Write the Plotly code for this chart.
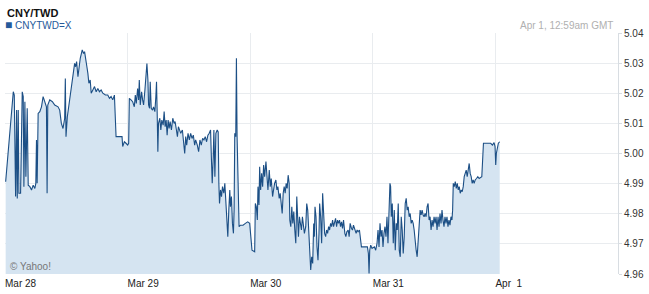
import pandas as pd
import plotly.graph_objects as go

# hours since Mar 28 00:00 GMT
hours = [
    0.129, 1.622, 1.817, 2.076, 2.271, 2.401, 2.596, 2.725, 3.050, 3.374, 3.569, 3.699, 3.894, 4.088, 4.348,
    4.543, 4.867, 5.192, 5.516, 5.841, 6.035, 6.165, 6.295, 6.490, 6.814, 7.139, 7.463, 7.788, 8.112, 8.242,
    8.372, 8.761, 9.280, 9.735, 10.384, 10.708, 11.033, 11.357, 11.682, 11.811, 11.941, 12.201, 12.525, 12.850,
    13.304, 13.629, 13.823, 14.018, 14.278, 14.472, 14.732, 15.121, 15.381, 15.576, 15.770, 16.030, 16.225,
    16.419, 16.679, 16.874, 17.198, 17.523, 17.847, 18.172, 18.496, 18.821, 19.145, 19.664, 20.119, 20.443,
    20.768, 21.092, 21.417, 21.611, 21.741, 22.390, 22.909, 23.039, 23.364, 23.688, 24.013, 24.207,
    24.340, 24.665, 24.990, 25.314, 25.509, 25.703, 25.963, 26.158, 26.288, 26.482, 26.742, 26.937, 27.131,
    27.391, 27.650, 27.780, 27.975, 28.105, 28.299, 28.429, 28.624, 28.884, 29.078, 29.338, 29.533, 29.662,
    29.792, 29.922, 30.052, 30.311, 30.506, 30.701, 30.960, 31.155, 31.350, 31.544, 31.739, 31.934, 32.129,
    32.323, 32.583, 32.842, 33.102, 33.297, 33.556, 33.751, 33.946, 34.205, 34.400, 34.725, 34.919, 35.179,
    35.374, 35.568, 35.828, 36.087, 36.347, 36.607, 36.866, 37.126, 37.321, 37.645, 37.905, 38.164, 38.424,
    38.683, 38.943, 39.203, 39.462, 39.722, 39.981, 40.241, 40.436, 40.566, 40.760, 40.890, 41.085, 41.279,
    41.539, 41.734, 41.864, 41.993, 42.188, 42.383, 42.577, 42.837, 43.032, 43.226, 43.421, 43.616, 43.811,
    44.005, 44.135, 44.330, 44.524, 44.719, 44.849, 44.979, 45.173, 45.303, 45.433, 45.563, 45.693, 45.823,
    46.082, 46.601, 47.056, 47.510, 47.899, 48.159, 48.354,
    48.876, 49.006, 49.201, 49.395, 49.525, 49.720, 49.850, 50.044, 50.239, 50.434, 50.629, 50.823, 51.083,
    51.278, 51.472, 51.732, 51.927, 52.121, 52.381, 52.576, 52.770, 53.030, 53.225, 53.419, 53.679, 53.874,
    54.068, 54.263, 54.458, 54.652, 54.847, 55.042, 55.236, 55.431, 55.626, 55.756, 55.950, 56.145, 56.340,
    56.534, 56.729, 56.924, 57.119, 57.248, 57.443, 57.638, 57.832, 58.027, 58.222, 58.417, 58.611, 58.871,
    59.066, 59.260, 59.455, 59.650, 59.844, 60.039, 60.234, 60.428, 60.558, 60.688, 60.883, 61.077, 61.272,
    61.467, 61.597, 61.791, 61.986, 62.181, 62.375, 62.570, 62.765, 62.960, 63.154, 63.349, 63.544, 63.738,
    63.933, 64.128, 64.322, 64.517, 64.712, 64.907, 65.101, 65.296, 65.491, 65.685, 65.880, 66.075, 66.269,
    66.529, 66.724, 66.918, 67.178, 67.373, 67.567, 67.827, 68.022, 68.216, 68.476, 68.736, 68.930, 69.125,
    69.385, 69.579, 69.774, 70.099, 70.553, 70.942, 71.137, 71.267, 71.397, 71.592, 71.851,
    72.309, 72.568, 72.828, 73.023, 73.217, 73.412, 73.607, 73.801, 73.996, 74.191, 74.385, 74.580, 74.775,
    74.970, 75.164, 75.359, 75.489, 75.619, 75.813, 76.008, 76.203, 76.397, 76.592, 76.787, 76.981, 77.176,
    77.371, 77.566, 77.760, 77.955, 78.150, 78.344, 78.539, 78.734, 78.928, 79.123, 79.318, 79.513, 79.707,
    79.902, 80.097, 80.291, 80.486, 80.681, 80.875, 81.070, 81.265, 81.460, 81.654, 81.849, 82.044, 82.238,
    82.433, 82.628, 82.822, 83.017, 83.212, 83.407, 83.601, 83.796, 83.991, 84.185, 84.380, 84.575, 84.769,
    84.964, 85.159, 85.354, 85.548, 85.743, 85.938, 86.132, 86.327, 86.522, 86.716, 86.911, 87.106, 87.301,
    87.495, 87.625, 87.755, 87.950, 88.144, 88.339, 88.534, 88.728, 88.923, 89.118, 89.312, 89.507, 89.702,
    89.897, 90.091, 90.286, 90.481, 90.675, 90.870, 91.065, 91.259, 91.454, 91.649, 91.844, 92.038, 92.298,
    92.557, 92.817, 93.142, 93.336, 93.531, 93.661, 94.115, 94.634, 95.089, 95.413, 95.738, 95.932, 96.062,
    96.192, 96.387, 96.581, 96.841,
]

rates = [
    4.9906, 5.0205, 5.0194, 4.9857, 5.0144, 4.9851, 5.0144, 4.9868, 4.9868, 5.0205, 5.0189, 4.9890, 5.0172, 4.9923, 5.0150,
    4.9895, 4.9890, 4.9879, 4.9895, 4.9884, 4.9901, 5.0045, 4.9901, 5.0133, 5.0139, 5.0155, 5.0189, 5.0172, 5.0155, 4.9868,
    5.0161, 5.0178, 5.0172, 5.0161, 5.0155, 5.0144, 5.0100, 5.0083, 5.0117, 5.0249, 5.0056, 5.0122, 5.0161, 5.0194,
    5.0255, 5.0299, 5.0288, 5.0305, 5.0255, 5.0288, 5.0316, 5.0344, 5.0332, 5.0338, 5.0321, 5.0288, 5.0266,
    5.0233, 5.0244, 5.0200, 5.0211, 5.0222, 5.0205, 5.0216, 5.0205, 5.0211, 5.0200, 5.0194, 5.0194, 5.0183,
    5.0189, 5.0178, 5.0194, 5.0122, 5.0056, 5.0056, 5.0056, 5.0023, 5.0039, 5.0034, 5.0028, 5.0034,
    5.0183, 5.0178, 5.0172, 5.0155, 5.0194, 5.0166, 5.0216, 5.0178, 5.0244, 5.0161, 5.0205, 5.0178, 5.0161,
    5.0211, 5.0294, 5.0299, 5.0244, 5.0161, 5.0150, 5.0238, 5.0150, 5.0144, 5.0155, 5.0139, 5.0189, 5.0238,
    5.0133, 5.0006, 5.0100, 5.0117, 5.0078, 5.0111, 5.0094, 5.0139, 5.0089, 5.0111, 5.0061, 5.0111, 5.0083,
    5.0106, 5.0078, 5.0117, 5.0100, 5.0106, 5.0078, 5.0056, 5.0089, 5.0072, 5.0067, 5.0078, 5.0050, 5.0000,
    5.0056, 5.0028, 5.0067, 5.0045, 5.0067, 5.0050, 5.0061, 5.0028, 5.0045, 5.0028, 5.0006, 5.0045, 5.0028,
    5.0050, 5.0045, 5.0056, 5.0039, 5.0061, 5.0067, 5.0078, 4.9967, 4.9901, 4.9989, 5.0078, 4.9923, 5.0067,
    5.0078, 5.0072, 4.9901, 4.9834, 4.9879, 4.9857, 4.9890, 4.9868, 4.9901, 4.9834, 4.9746, 4.9724, 4.9812,
    4.9879, 4.9823, 4.9857, 4.9768, 4.9735, 4.9812, 5.0067, 5.0056, 5.0316, 5.0056, 4.9934, 4.9768, 4.9757,
    4.9762, 4.9762, 4.9768, 4.9773, 4.9768, 4.9724, 4.9679,
    4.9674, 4.9834, 4.9823, 4.9779, 4.9890, 4.9829, 4.9956, 4.9879, 4.9934, 4.9890, 4.9962, 4.9923, 4.9973,
    4.9934, 4.9879, 4.9945, 4.9890, 4.9917, 4.9857, 4.9879, 4.9901, 4.9912, 4.9879, 4.9890, 4.9851, 4.9868,
    4.9834, 4.9801, 4.9868, 4.9890, 4.9868, 4.9901, 4.9884, 4.9928, 4.9901, 4.9779, 4.9757, 4.9823, 4.9768,
    4.9807, 4.9746, 4.9702, 4.9857, 4.9790, 4.9724, 4.9790, 4.9757, 4.9746, 4.9790, 4.9746, 4.9735, 4.9757,
    4.9834, 4.9812, 4.9746, 4.9679, 4.9613, 4.9657, 4.9635, 4.9768, 4.9724, 4.9823, 4.9790, 4.9690, 4.9646,
    4.9735, 4.9834, 4.9790, 4.9702, 4.9868, 4.9790, 4.9735, 4.9724, 4.9746, 4.9735, 4.9757, 4.9746, 4.9768,
    4.9757, 4.9779, 4.9757, 4.9773, 4.9785, 4.9757, 4.9779, 4.9768, 4.9779, 4.9757, 4.9773, 4.9751, 4.9779,
    4.9735, 4.9724, 4.9740, 4.9746, 4.9724, 4.9768, 4.9751, 4.9746, 4.9762, 4.9746, 4.9735, 4.9746, 4.9740,
    4.9746, 4.9724, 4.9690, 4.9690, 4.9690, 4.9690, 4.9668, 4.9602, 4.9679, 4.9696, 4.9685,
    4.9690, 4.9679, 4.9702, 4.9746, 4.9690, 4.9768, 4.9724, 4.9746, 4.9690, 4.9735, 4.9757, 4.9724, 4.9790,
    4.9702, 4.9857, 4.9901, 4.9890, 4.9790, 4.9834, 4.9702, 4.9812, 4.9679, 4.9768, 4.9746, 4.9834, 4.9679,
    4.9657, 4.9790, 4.9746, 4.9668, 4.9724, 4.9834, 4.9851, 4.9812, 4.9823, 4.9790, 4.9801, 4.9768, 4.9779,
    4.9768, 4.9746, 4.9702, 4.9679, 4.9657, 4.9724, 4.9757, 4.9812, 4.9796, 4.9812, 4.9796, 4.9790, 4.9801,
    4.9790, 4.9823, 4.9834, 4.9779, 4.9790, 4.9746, 4.9779, 4.9757, 4.9790, 4.9768, 4.9790, 4.9746, 4.9790,
    4.9757, 4.9801, 4.9768, 4.9812, 4.9779, 4.9757, 4.9790, 4.9768, 4.9790, 4.9757, 4.9779, 4.9762, 4.9790,
    4.9779, 4.9812, 4.9901, 4.9890, 4.9907, 4.9884, 4.9901, 4.9879, 4.9890, 4.9868, 4.9879, 4.9873, 4.9890,
    4.9923, 4.9934, 4.9945, 4.9923, 4.9956, 4.9967, 4.9934, 4.9923, 4.9901, 4.9912, 4.9901, 4.9912, 4.9917,
    4.9923, 4.9917, 4.9923, 4.9923, 4.9989, 5.0034, 5.0034, 5.0034, 5.0034, 5.0028, 5.0036, 5.0023, 4.9962,
    5.0001, 5.0023, 5.0034, 5.0039,
]

tick_dates = ["2011-03-28", "2011-03-29", "2011-03-30", "2011-03-31", "2011-04-01"]
tick_labels = ["Mar 28", "Mar 29", "Mar 30", "Mar 31", "Apr  1"]
y_ticks = [4.96, 4.97, 4.98, 4.99, 5.00, 5.01, 5.02, 5.03, 5.04]

base = pd.Timestamp("2011-03-28 00:00")
times = base + pd.to_timedelta(hours, unit="h")

fig = go.Figure()
fig.add_trace(go.Scatter(
    x=times, y=rates, mode="lines",
    line=dict(color="#1c4f85", width=1.1),
    fill="tozeroy", fillcolor="#d5e4f1",
    hoverinfo="x+y", showlegend=False,
))

grid = "#e9ecef"
fig.update_layout(
    width=649, height=294,
    margin=dict(l=5, r=28, t=33, b=20),
    paper_bgcolor="white", plot_bgcolor="white",
    font=dict(family="Arial, Liberation Sans, sans-serif", size=10, color="#333"),
    xaxis=dict(
        type="date",
        range=["2011-03-28", "2011-04-02"],
        tickvals=tick_dates, ticktext=tick_labels,
        ticklabelposition="outside right",
        ticklabelstandoff=2,
        showgrid=True, gridcolor=grid, gridwidth=1,
        showline=False, zeroline=False, ticks="",
        tickfont=dict(size=10, color="#222"),
    ),
    yaxis=dict(
        side="right", range=[4.96, 5.04],
        tickvals=y_ticks, tickformat=".2f",
        showgrid=True, gridcolor=grid, gridwidth=1,
        showline=True, linecolor="#d8dde2", linewidth=1,
        ticks="outside", ticklen=3, tickcolor="#d8dde2",
        zeroline=False, mirror=False,
        tickfont=dict(size=10, color="#333"),
    ),
    annotations=[
        dict(text="<b>CNY/TWD</b>", xref="paper", yref="paper", x=0, y=1.081,
             xanchor="left", yanchor="middle", showarrow=False,
             font=dict(size=11, color="#111")),
        dict(text="<span style='font-size:12px'>■</span> CNYTWD=X", xref="paper", yref="paper",
             x=-0.004, y=1.033,
             xanchor="left", yanchor="middle", showarrow=False,
             font=dict(size=10, color="#25599a")),
        dict(text="Apr 1, 12:59am GMT", xref="paper", yref="paper", x=0.995, y=1.03,
             xanchor="right", yanchor="middle", showarrow=False,
             font=dict(size=10, color="#b0b0b0")),
        dict(text="© Yahoo!", xref="paper", yref="paper", x=0.005, y=0.03,
             xanchor="left", yanchor="middle", showarrow=False,
             font=dict(size=10, color="#777")),
    ],
)

fig.write_html("out.html")
